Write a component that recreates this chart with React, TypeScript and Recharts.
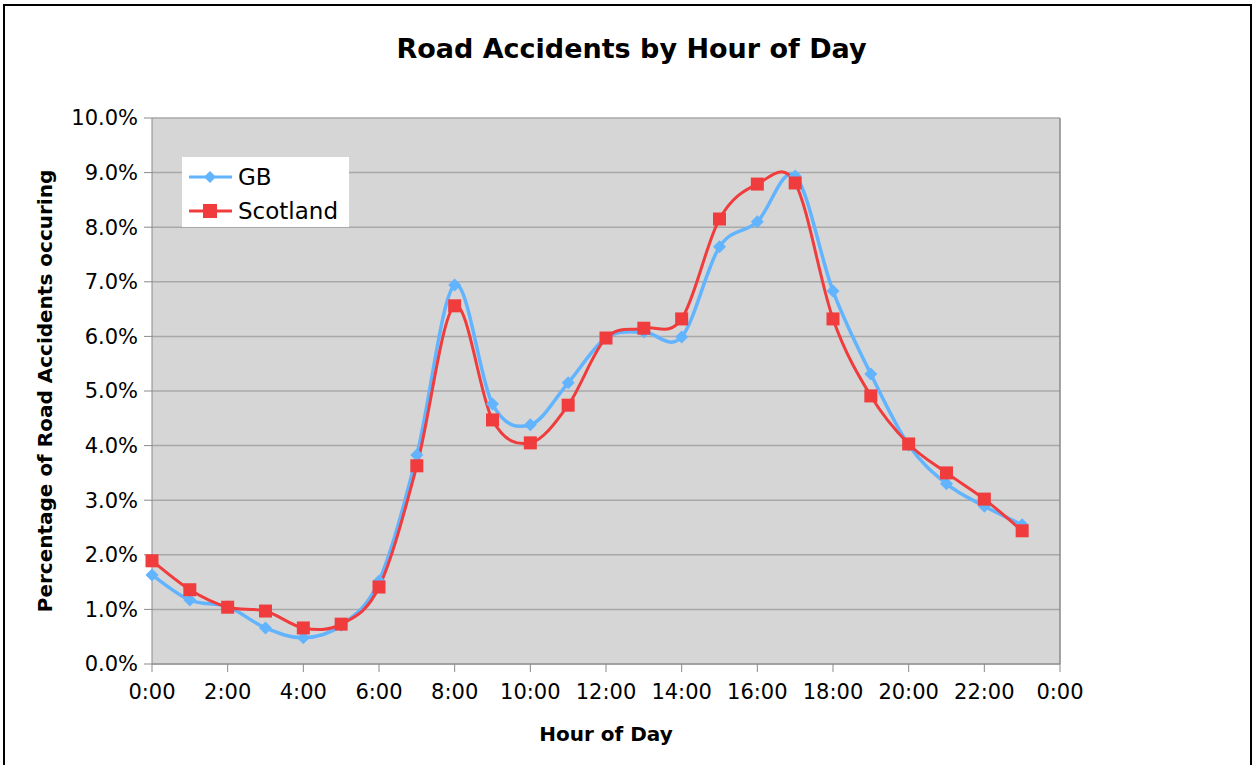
import React from 'react';
import {
  LineChart,
  Line,
  XAxis,
  YAxis,
  CartesianGrid,
  ReferenceLine,
} from 'recharts';

const hours = [0, 1, 2, 3, 4, 5, 6, 7, 8, 9, 10, 11, 12, 13, 14, 15, 16, 17, 18, 19, 20, 21, 22, 23];
const gb = [1.63, 1.17, 1.05, 0.66, 0.48, 0.71, 1.52, 3.83, 6.94, 4.76, 4.38, 5.15, 5.97, 6.08, 5.99, 7.64, 8.1, 8.94, 6.83, 5.31, 4.01, 3.3, 2.89, 2.55];
const scotland = [1.89, 1.36, 1.04, 0.97, 0.66, 0.73, 1.41, 3.63, 6.56, 4.47, 4.05, 4.74, 5.97, 6.15, 6.32, 8.15, 8.79, 8.81, 6.32, 4.91, 4.03, 3.5, 3.02, 2.44];
const xTicks = [0, 2, 4, 6, 8, 10, 12, 14, 16, 18, 20, 22, 24];
const yTicks = [0, 1, 2, 3, 4, 5, 6, 7, 8, 9, 10];

const data = hours.map((h, i) => ({ hour: h, gb: gb[i], scotland: scotland[i] }));

const GB_COLOR = '#62b4ff';
const SCOT_COLOR = '#f03c3c';
const FONT = '"DejaVu Sans", Verdana, sans-serif';

// Excel-style smoothed line (Catmull-Rom through the points)
function smoothCurve(context: any) {
  let xs: number[] = [];
  let ys: number[] = [];
  return {
    areaStart() {},
    areaEnd() {},
    lineStart() {
      xs = [];
      ys = [];
    },
    point(x: number, y: number) {
      xs.push(+x);
      ys.push(+y);
    },
    lineEnd() {
      const n = xs.length;
      if (!n) return;
      context.moveTo(xs[0], ys[0]);
      for (let i = 0; i < n - 1; i++) {
        const i0 = Math.max(i - 1, 0);
        const i3 = Math.min(i + 2, n - 1);
        context.bezierCurveTo(
          xs[i] + (xs[i + 1] - xs[i0]) / 6,
          ys[i] + (ys[i + 1] - ys[i0]) / 6,
          xs[i + 1] - (xs[i3] - xs[i]) / 6,
          ys[i + 1] - (ys[i3] - ys[i]) / 6,
          xs[i + 1],
          ys[i + 1]
        );
      }
    },
  };
}

const Diamond = (props: any) => {
  const { cx, cy } = props;
  if (cx == null || cy == null) return null;
  const r = 6.5;
  return (
    <polygon
      points={`${cx},${cy - r} ${cx + r},${cy} ${cx},${cy + r} ${cx - r},${cy}`}
      fill={GB_COLOR}
    />
  );
};

const Square = (props: any) => {
  const { cx, cy } = props;
  if (cx == null || cy == null) return null;
  const s = 13;
  return <rect x={cx - s / 2} y={cy - s / 2} width={s} height={s} fill={SCOT_COLOR} />;
};

// legend is drawn as an overlay so it doesn't shrink the plot
const LegendBox = () => (
  <div
    style={{
      position: 'absolute',
      left: 182,
      top: 157,
      width: 167,
      height: 70,
      background: '#fff',
      fontFamily: FONT,
      fontSize: 23,
      color: '#000',
    }}
  >
    <div style={{ position: 'absolute', left: 0, top: 4, height: 32, display: 'flex', alignItems: 'center' }}>
      <svg width={56} height={20}>
        <line x1={7} y1={10} x2={50} y2={10} stroke={GB_COLOR} strokeWidth={3} />
        <polygon points="28,4 34,10 28,16 22,10" fill={GB_COLOR} />
      </svg>
      <span>GB</span>
    </div>
    <div style={{ position: 'absolute', left: 0, top: 38, height: 32, display: 'flex', alignItems: 'center' }}>
      <svg width={56} height={20}>
        <line x1={7} y1={10} x2={50} y2={10} stroke={SCOT_COLOR} strokeWidth={3} />
        <rect x={21} y={3} width={14} height={14} fill={SCOT_COLOR} />
      </svg>
      <span>Scotland</span>
    </div>
  </div>
);

const fmtHour = (v: number) => `${v % 24}:00`;
const fmtPct = (v: number) => `${v.toFixed(1)}%`;

export default function App() {
  return (
    <div
      style={{
        position: 'absolute',
        left: 0,
        top: 0,
        width: 1255,
        height: 765,
        overflow: 'hidden',
        background: '#fff',
      }}
    >
      <div
        style={{
          position: 'absolute',
          left: 3,
          top: 4,
          width: 1249,
          height: 820,
          border: '2px solid #000',
          boxSizing: 'border-box',
        }}
      />
      <div
        style={{
          position: 'absolute',
          left: 0,
          top: 33,
          width: 1263,
          textAlign: 'center',
          fontFamily: FONT,
          fontWeight: 'bold',
          fontSize: 27,
          color: '#000',
        }}
      >
        Road Accidents by Hour of Day
      </div>
      <div style={{ position: 'absolute', left: 0, top: 0 }}>
        <LineChart
          width={1255}
          height={765}
          data={data}
          margin={{ top: 118, right: 195, bottom: 0, left: 0 }}
          style={{ fontFamily: FONT }}
        >
          <CartesianGrid vertical={false} fill="#d6d6d6" stroke="#a8a8a8" strokeWidth={1.5} />
          <XAxis
            dataKey="hour"
            type="number"
            domain={[0, 24]}
            ticks={xTicks}
            tickFormatter={fmtHour}
            interval={0}
            tickSize={8}
            tickMargin={12}
            height={101}
            stroke="#8a8a8a"
            tick={{ fill: '#000', fontSize: 21 }}
            label={{
              value: 'Hour of Day',
              position: 'insideBottom',
              offset: 24,
              fill: '#000',
              fontSize: 20,
              fontWeight: 'bold',
            }}
          />
          <YAxis
            width={152}
            domain={[0, 10]}
            ticks={yTicks}
            tickFormatter={fmtPct}
            interval={0}
            tickSize={8}
            tickMargin={6}
            stroke="#8a8a8a"
            tick={{ fill: '#000', fontSize: 21 }}
            label={{
              value: 'Percentage of Road Accidents occuring',
              angle: -90,
              position: 'insideLeft',
              offset: 45,
              style: { textAnchor: 'middle' },
              fill: '#000',
              fontSize: 20,
              fontWeight: 'bold',
            }}
          />
          <ReferenceLine x={24} stroke="#8a8a8a" strokeWidth={1.5} />
          <Line
            dataKey="gb"
            name="GB"
            type={smoothCurve as any}
            stroke={GB_COLOR}
            strokeWidth={3.5}
            dot={<Diamond />}
            activeDot={false}
            isAnimationActive={false}
          />
          <Line
            dataKey="scotland"
            name="Scotland"
            type={smoothCurve as any}
            stroke={SCOT_COLOR}
            strokeWidth={3}
            dot={<Square />}
            activeDot={false}
            isAnimationActive={false}
          />
        </LineChart>
      </div>
      <LegendBox />
    </div>
  );
}
